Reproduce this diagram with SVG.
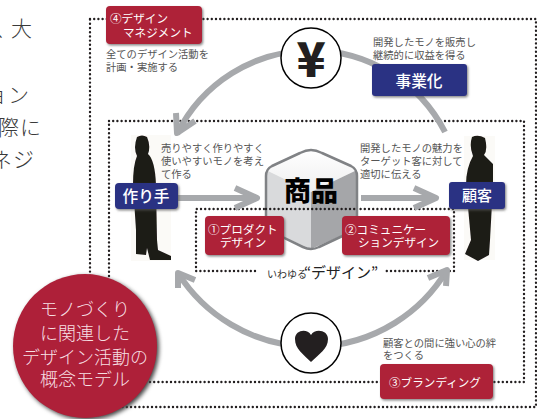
<svg xmlns="http://www.w3.org/2000/svg" width="537" height="419" viewBox="0 0 537 419">
<style>
text{font-family:"Noto Sans CJK JP","Noto Sans",sans-serif}
.dot{fill:none;stroke:#231f20;stroke-width:2.4;stroke-linecap:round;stroke-dasharray:0 4.2}
.flow{fill:none;stroke:#a7a9ac;stroke-width:6;stroke-linejoin:round}
.note{font-size:10.3px;fill:#555}
.red{fill:#ae2039;filter:url(#drop)}
.blue{fill:#2b3183;filter:url(#drop)}
.lab{font-size:11.6px;fill:#fff}
.big{font-size:15.7px;fill:#fff;text-anchor:middle;font-weight:500}
.side{font-size:21px;fill:#3a3a3a;font-weight:300;letter-spacing:1px}
.disc{font-size:18px;fill:#f6dfe2;text-anchor:middle;font-weight:300}
.ring{fill:#fff;stroke:#000;stroke-width:1.5}
</style>
<defs>
<filter id="drop" x="-10%" y="-15%" width="125%" height="135%"><feDropShadow dx="1.2" dy="1.5" stdDeviation="1" flood-color="#555" flood-opacity=".7"/></filter>
<filter id="soft" x="-10%" y="-10%" width="120%" height="120%"><feGaussianBlur stdDeviation=".7"/></filter>
<linearGradient id="lid" x1="0" y1="0" x2="0" y2="1"><stop offset="0" stop-color="#fff"/><stop offset="1" stop-color="#eeeeef"/></linearGradient>
</defs>

<!-- body copy running in from the left margin -->
<g id="side-copy">
<text class="side" x="-24 -5 11" y="36">人、大</text>
<text class="side" x="-14" y="102">ョン</text>
<text class="side" x="-24" y="135">実際に</text>
<text class="side" x="-9" y="167">ネジ</text>
</g>

<g id="frames">
<rect class="dot" x="90" y="19" width="446" height="388"/>
<rect class="dot" x="109" y="121" width="415" height="261"/>
<path class="dot" d="M255 271H196V209H454V271H383"/>
</g>

<g id="connectors">
<path class="flow" d="M445 132A150 150 0 0 0 177 134"/>
<path class="flow" d="M178 273A158 158 0 0 0 447 270"/>
<path class="flow" d="M176 113L177 133L195 121"/>
<path class="flow" d="M178 288L178 273L195 280"/>
<path class="flow" d="M428 278L447 270L446 286"/>
<path class="flow" d="M178 198H255M235 188L257 198L235 208"/>
<path class="flow" d="M361 198H434M414 188L436 198L414 208"/>
</g>

<g id="maker-figure">
<rect x="131" y="135" width="40" height="126" fill="#fbfaf7" filter="url(#soft)"/>
<path filter="url(#soft)" fill="#1d1a17" d="M137 137Q142 134 147 137Q151 146 148 154Q155 160 156 185L157 240L158 250L171 256V260H150L147 248L146 255L136 254L136 230L133 185Q133 165 137 156Q133 148 137 137Z"/>
</g>
<g id="customer-figure">
<rect x="464" y="136" width="31" height="124" fill="#fbfaf7" filter="url(#soft)"/>
<path filter="url(#soft)" fill="#1d1a17" d="M472 137Q478 134 485 138Q488 150 484 155L493 164V185L490 240L489 255L478 261L465 254L471 240L466 185Q466 168 473 156Q469 146 472 137Z"/>
</g>

<g id="product-cube">
<path d="M266 170L311 150L357 170L311 192Z" fill="url(#lid)"/>
<path d="M266 170L311 192V249L266 229Z" fill="#d9dadc"/>
<path d="M357 170L311 192V249L357 229Z" fill="#a5a6a9"/>
<path d="M311 150Q306 150 300 153L272 166Q266 169 266 176V224Q266 229 272 232L303 247Q311 251 319 247L351 232Q357 229 357 224V176Q357 169 351 166L322 153Q316 150 311 150Z" fill="none" stroke="#808285" stroke-width="2.5"/>
<text x="311" y="201" font-size="27" font-weight="900" fill="#000" text-anchor="middle">商品</text>
</g>
<path class="dot" d="M266 209H357"/>

<g id="yen-mark">
<circle class="ring" cx="311" cy="58" r="30"/>
<text x="311" y="77" font-size="48" font-weight="900" fill="#231f20" text-anchor="middle" font-family="Liberation Sans">¥</text>
</g>
<g id="heart-mark">
<circle class="ring" cx="311" cy="343" r="30"/>
<path fill="#231f20" d="M311 362C303 354 295 349 295 339C295 330 307 328 311 335C315 328 328 330 328 339C328 349 319 354 311 362Z"/>
</g>

<g id="maker"><rect class="blue" x="115" y="183" width="63" height="26" rx="4"/><text class="big" x="146" y="202">作り手</text></g>
<g id="customer"><rect class="blue" x="449" y="182" width="56" height="27" rx="3"/><text class="big" style="font-size:15px" x="477" y="201">顧客</text></g>
<g id="business"><rect class="blue" x="372" y="64" width="95" height="32" rx="3"/><text class="big" x="419" y="87">事業化</text></g>

<g id="design-management">
<rect class="red" x="106" y="6" width="96" height="38" rx="4"/>
<text class="lab" x="110" y="22.500">④デザイン</text>
<text class="lab" x="123" y="36.500">マネジメント</text>
<text class="note" x="106" y="58">全てのデザイン活動を</text>
<text class="note" x="106" y="71">計画・実施する</text>
</g>
<g id="product-design">
<rect class="red" x="205" y="216" width="79" height="39" rx="4"/>
<text class="lab" x="208" y="233.500">①プロダクト</text>
<text class="lab" x="220" y="246.500">デザイン</text>
</g>
<g id="communication-design">
<rect class="red" x="342" y="216" width="108" height="39" rx="4"/>
<text class="lab" x="345" y="233.500">②コミュニケー</text>
<text class="lab" x="358" y="246.500">ションデザイン</text>
</g>
<g id="branding">
<rect class="red" x="380" y="364" width="113" height="35" rx="4"/>
<text class="lab" x="389" y="386.500">③ブランディング</text>
<text class="note" x="383" y="347">顧客との間に強い心の絆</text>
<text class="note" x="383" y="359">をつくる</text>
</g>

<g id="notes">
<text class="note" x="161" y="152">売りやすく作りやすく</text>
<text class="note" x="161" y="165">使いやすいモノを考え</text>
<text class="note" x="161" y="178">て作る</text>
<text class="note" x="360" y="152">開発したモノの魅力を</text>
<text class="note" x="360" y="165">ターゲット客に対して</text>
<text class="note" x="360" y="178">適切に伝える</text>
<text class="note" x="373" y="46">開発したモノを販売し</text>
<text class="note" x="373" y="59">継続的に収益を得る</text>
<text x="267" y="278" font-size="10" fill="#333">いわゆる<tspan font-size="15" fill="#222" dx="-3">“デザイン”</tspan></text>
</g>

<g id="model-title">
<circle cx="85" cy="346" r="72" fill="#ae2039" style="filter:drop-shadow(2px 2px 2px #444)"/>
<text class="disc" x="85" y="315.500">モノづくり</text>
<text class="disc" x="85" y="339.500">に関連した</text>
<text class="disc" x="85" y="363.500">デザイン活動の</text>
<text class="disc" x="85" y="385.500">概念モデル</text>
</g>
</svg>
